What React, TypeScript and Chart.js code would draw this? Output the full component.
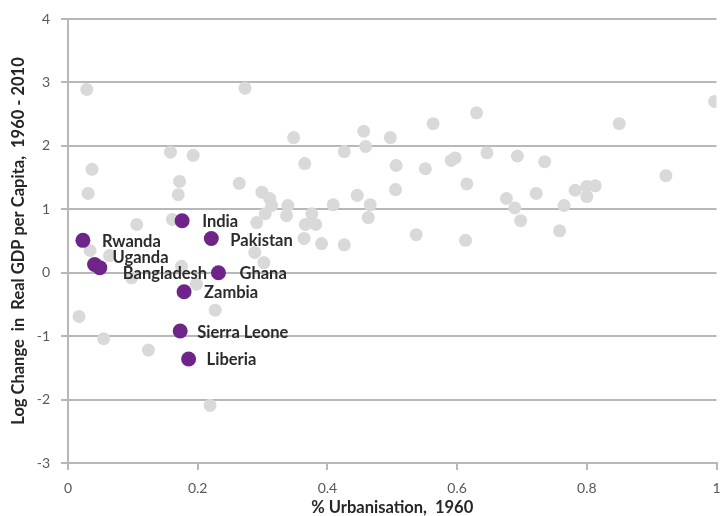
import React, { useEffect, useRef } from "react";
import { Chart, registerables } from "chart.js";

Chart.register(...registerables);

// Other countries (grey)
const otherUrbanisation = [
  0.029, 0.273, 0.037, 0.031, 0.158, 0.193, 0.172, 0.170, 0.264, 0.563,
  0.456, 0.348, 0.497, 0.459, 0.426, 0.365, 0.506, 0.551, 0.505, 0.299,
  0.311, 0.314, 0.304, 0.291, 0.446, 0.409, 0.339, 0.466, 0.337, 0.376,
  0.463, 0.366, 0.382, 0.537, 0.364, 0.391, 0.426, 0.288, 0.302, 0.997,
  0.630, 0.850, 0.646, 0.693, 0.735, 0.591, 0.597, 0.615, 0.922, 0.676,
  0.722, 0.782, 0.800, 0.813, 0.800, 0.689, 0.765, 0.698, 0.758, 0.613,
  0.106, 0.161, 0.034, 0.064, 0.098, 0.175, 0.198, 0.227, 0.017, 0.055,
  0.124, 0.219,
];
const otherGdpChange = [
  2.89, 2.91, 1.63, 1.25, 1.90, 1.85, 1.44, 1.23, 1.41, 2.35,
  2.23, 2.13, 2.13, 1.99, 1.91, 1.72, 1.69, 1.64, 1.31, 1.27,
  1.17, 1.06, 0.93, 0.79, 1.22, 1.07, 1.06, 1.07, 0.90, 0.93,
  0.87, 0.76, 0.76, 0.60, 0.54, 0.46, 0.44, 0.32, 0.16, 2.70,
  2.52, 2.35, 1.89, 1.84, 1.75, 1.77, 1.81, 1.40, 1.53, 1.17,
  1.25, 1.30, 1.36, 1.37, 1.20, 1.02, 1.06, 0.82, 0.66, 0.51,
  0.76, 0.84, 0.35, 0.27, -0.08, 0.10, -0.18, -0.59, -0.69, -1.04,
  -1.22, -2.09,
];

// Highlighted countries (purple)
const highlightNames = [
  "Rwanda", "Uganda", "Bangladesh", "India", "Pakistan",
  "Ghana", "Zambia", "Sierra Leone", "Liberia",
];
const highlightUrbanisation = [0.023, 0.041, 0.049, 0.176, 0.221, 0.232, 0.179, 0.173, 0.186];
const highlightGdpChange = [0.51, 0.13, 0.08, 0.82, 0.54, 0.0, -0.30, -0.92, -1.36];

const xTitle = "% Urbanisation,  1960";
const yTitle = "Log Change  in  Real GDP per Capita,  1960 - 2010";

// label offsets (pixels) relative to each highlighted point
const labelOffsets: Record<string, [number, number]> = {
  Rwanda: [19, 1],
  Uganda: [18, -7],
  Bangladesh: [23, 6],
  India: [20, 1],
  Pakistan: [19, 2],
  Ghana: [21, 1],
  Zambia: [20, 1],
  "Sierra Leone": [17, 2],
  Liberia: [18, 1],
};

const FONT = "Lato, 'Open Sans', sans-serif";

const labelPlugin = {
  id: "countryLabels",
  afterDatasetsDraw(chart: any) {
    const meta = chart.getDatasetMeta(0);
    const ctx = chart.ctx;
    ctx.save();
    ctx.font = "bold 16.5px " + FONT;
    ctx.fillStyle = "#2b2b2b";
    ctx.textAlign = "left";
    ctx.textBaseline = "middle";
    meta.data.forEach((pt: any, i: number) => {
      const name = highlightNames[i];
      const off = labelOffsets[name] || [18, 0];
      ctx.fillText(name, pt.x + off[0], pt.y + off[1]);
    });
    ctx.restore();
  },
};

export default function App() {
  const ref = useRef<HTMLCanvasElement | null>(null);

  useEffect(() => {
    if (!ref.current) return;
    const highlight = highlightUrbanisation.map((x, i) => ({ x, y: highlightGdpChange[i] }));
    const others = otherUrbanisation.map((x, i) => ({ x, y: otherGdpChange[i] }));
    const chart = new Chart(ref.current, {
      type: "scatter",
      data: {
        datasets: [
          {
            label: "Highlighted",
            data: highlight,
            backgroundColor: "#6e2489",
            borderWidth: 0,
            pointRadius: 7.5,
            pointHoverRadius: 7.5,
          },
          {
            label: "Others",
            data: others,
            backgroundColor: "#d9d9d9",
            borderWidth: 0,
            pointRadius: 6.5,
            pointHoverRadius: 6.5,
          },
        ],
      },
      options: {
        animation: false,
        responsive: false,
        events: [],
        layout: { padding: { top: 19, right: 0, left: 0, bottom: 0 } },
        plugins: {
          legend: { display: false },
          tooltip: { enabled: false },
        },
        scales: {
          x: {
            type: "linear",
            min: 0,
            max: 1,
            afterFit: (s: any) => {
              s.height = 53;
              s.paddingLeft = 0;
              s.paddingRight = 0;
            },
            ticks: {
              stepSize: 0.2,
              color: "#595959",
              font: { family: FONT, size: 14 },
              padding: 10,
              maxRotation: 0,
              callback: (v: any) => String(Number(Number(v).toFixed(1))),
            },
            grid: {
              display: true,
              drawOnChartArea: false,
              drawTicks: true,
              tickLength: 7,
              color: "#b8b8b8",
              lineWidth: 2,
            },
            border: { display: true, color: "#b8b8b8", width: 2 },
            title: {
              display: true,
              text: xTitle,
              color: "#262626",
              font: { family: FONT, size: 16.5, weight: "bold", lineHeight: 1 },
              padding: { top: 0, bottom: 0 },
            },
          },
          y: {
            type: "linear",
            min: -3,
            max: 4,
            afterFit: (s: any) => {
              s.width = 68;
              s.paddingTop = 0;
              s.paddingBottom = 0;
            },
            ticks: {
              stepSize: 1,
              color: "#595959",
              font: { family: FONT, size: 14 },
              padding: 11,
            },
            grid: {
              display: true,
              drawTicks: true,
              tickLength: 7,
              color: "#b8b8b8",
              lineWidth: 2,
            },
            border: { display: true, color: "#b8b8b8", width: 2 },
            title: {
              display: true,
              text: yTitle,
              color: "#262626",
              font: { family: FONT, size: 16.5, weight: "bold", lineHeight: 1.2 },
              padding: { top: 9, bottom: 0 },
            },
          },
        },
      },
      plugins: [labelPlugin],
    });
    return () => chart.destroy();
  }, []);

  return (
    <div style={{ position: "fixed", left: 0, top: 0, width: 724, height: 516, background: "#fff" }}>
      <canvas ref={ref} width={724} height={516} style={{ display: "block" }} />
    </div>
  );
}
